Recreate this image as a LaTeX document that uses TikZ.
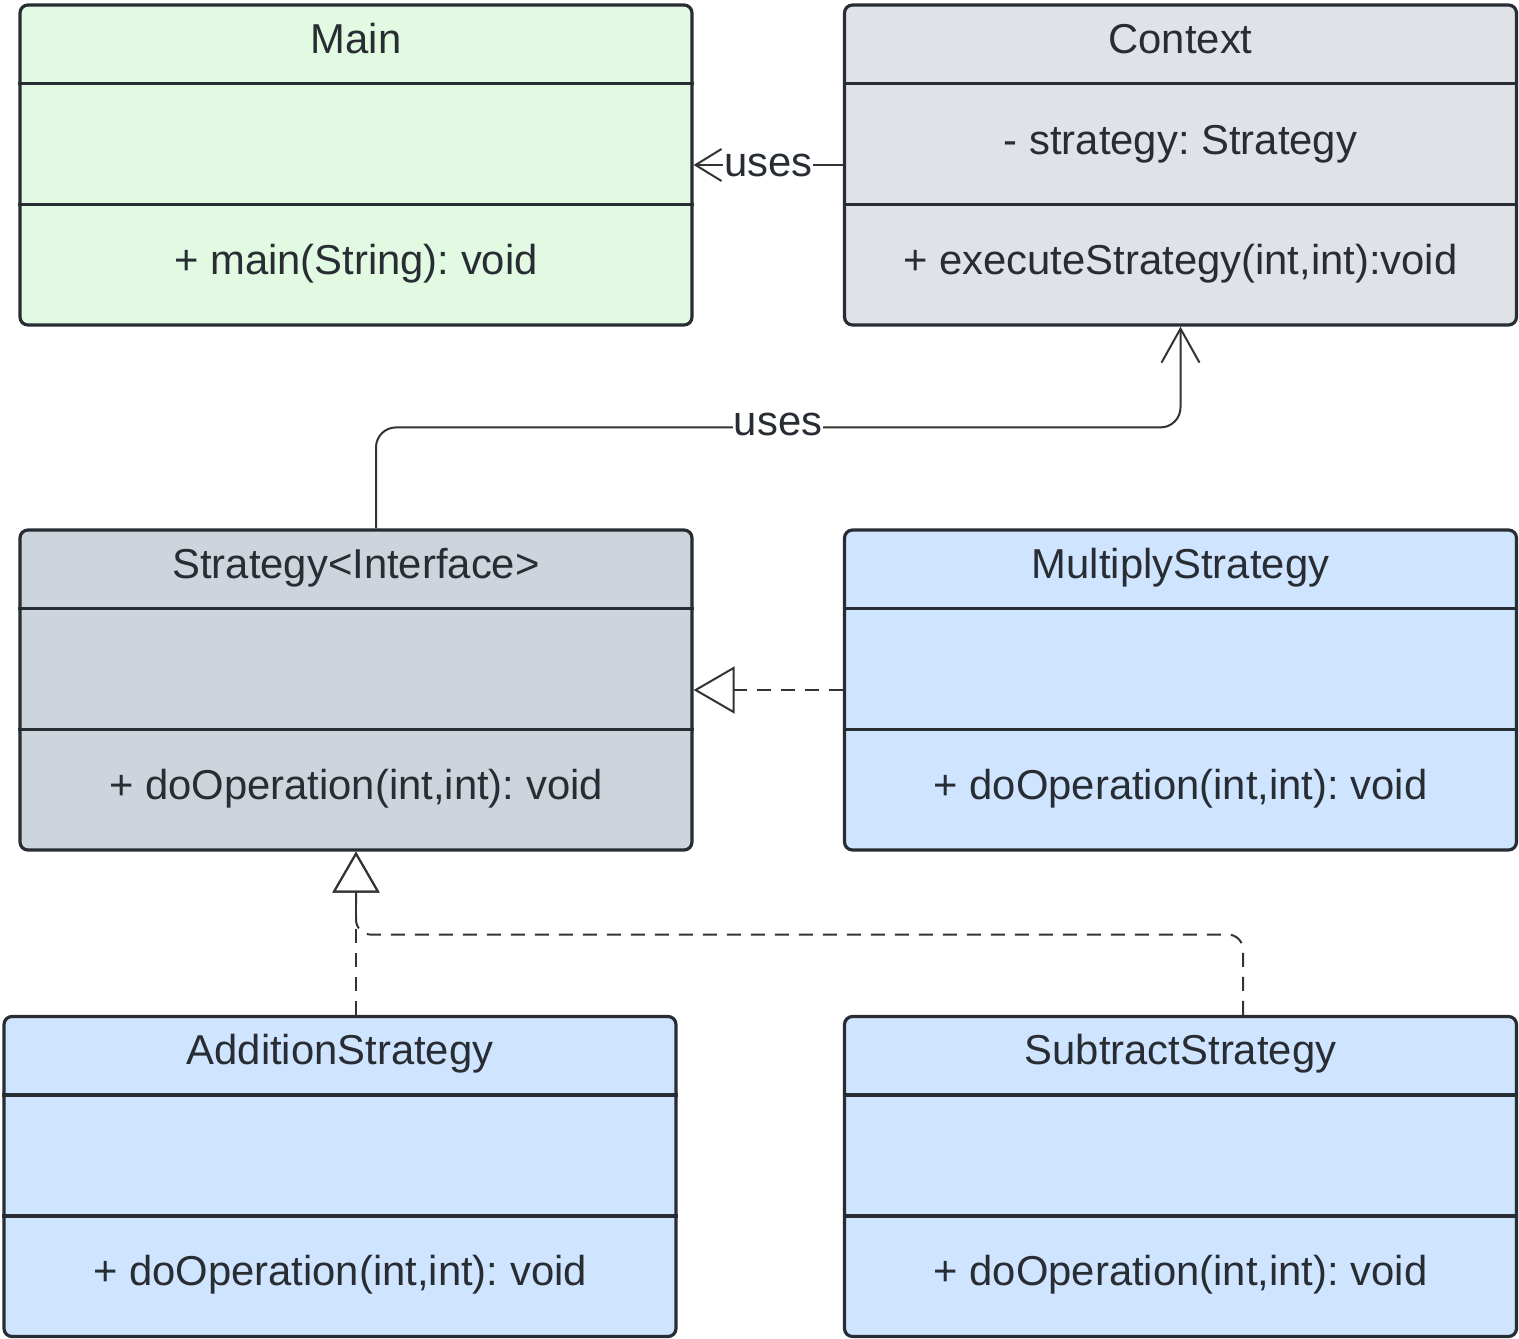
\documentclass[tikz,border=0pt]{standalone}
\usepackage{fontspec}
\setmainfont{Liberation Sans}
\usetikzlibrary{arrows.meta,calc}
\definecolor{edge}{HTML}{282C33}
\definecolor{txt}{HTML}{282C33}
\definecolor{mainfill}{HTML}{E2FAE2}
\definecolor{ctxfill}{HTML}{DFE3E8}
\definecolor{strfill}{HTML}{CED4DB}
\definecolor{bluefill}{HTML}{CFE4FF}
\definecolor{conn}{HTML}{333333}
\newcommand\umlclass[7]{%
  \node[classbox, fill=#4] (#1) at (#2,#3) {};
  \draw[divider] ($(#1.north west)+(0,80)$) -- ($(#1.north east)+(0,80)$);
  \draw[divider] ($(#1.north west)+(0,201)$) -- ($(#1.north east)+(0,201)$);
  \node[lbl] (#1-t) at ($(#1.north)+(0,50)$) {#5};
  \node[lbl] (#1-a) at ($(#1.north)+(0,151)$) {#6};
  \node[lbl] (#1-m) at ($(#1.north)+(0,271)$) {#7};
}
\begin{document}
\frenchspacing
\begin{tikzpicture}[x=1pt,y=-1pt,
  classbox/.style={draw=edge, line width=3.2pt, rounded corners=8pt, minimum width=672pt, minimum height=320pt, inner sep=0pt},
  divider/.style={draw=edge, line width=3.2pt},
  lbl/.style={text=txt, font=\fontsize{41.8}{50}\selectfont\frenchspacing, inner sep=0pt, anchor=base},
  ulabel/.style={text=txt, font=\fontsize{41.8}{50}\selectfont, inner sep=1pt, fill=white},
  connline/.style={draw=conn, line width=2pt},
  dashline/.style={draw=conn, line width=2pt, dash pattern=on 14pt off 10pt},
  realize/.style={-{Triangle[open, length=41pt, width=47pt]}}
]
\useasboundingbox (0,0) rectangle (1519,1339);
\umlclass{main}{356}{165}{mainfill}{Main}{}{+ main(String): void}
\umlclass{context}{1180.5}{165}{ctxfill}{Context}{- strategy: Strategy}{+ executeStrategy(int,int):void}
\umlclass{strategy}{356}{690}{strfill}{Strategy<Interface>}{}{+ doOperation(int,int): void}
\umlclass{multiply}{1180.5}{690}{bluefill}{MultiplyStrategy}{}{+ doOperation(int,int): void}
\umlclass{addition}{340}{1176.5}{bluefill}{AdditionStrategy}{}{+ doOperation(int,int): void}
\umlclass{subtract}{1180.5}{1176.5}{bluefill}{SubtractStrategy}{}{+ doOperation(int,int): void}

\draw[connline, -{Straight Barb[length=26pt,width=32pt]}] (context.west) -- (main.east)
  node[ulabel, midway] (uses1) {uses};

\draw[connline, rounded corners=20pt, -{Straight Barb[length=34pt,width=38pt]}]
  ([xshift=20pt]strategy.north) -- ++(0,-101) -| (context.south);
\node[ulabel] (uses2) at (778,424) {uses};

\draw[dashline, realize] (multiply.west) -- (strategy.east);
\draw[dashline, realize] (strategy.south |- addition.north) -- (strategy.south);
\draw[dashline, realize, rounded corners=15pt] ([xshift=62.5pt]subtract.north) |- ($(strategy.south)+(0,83)$) -- (strategy.south);
\end{tikzpicture}
\end{document}
